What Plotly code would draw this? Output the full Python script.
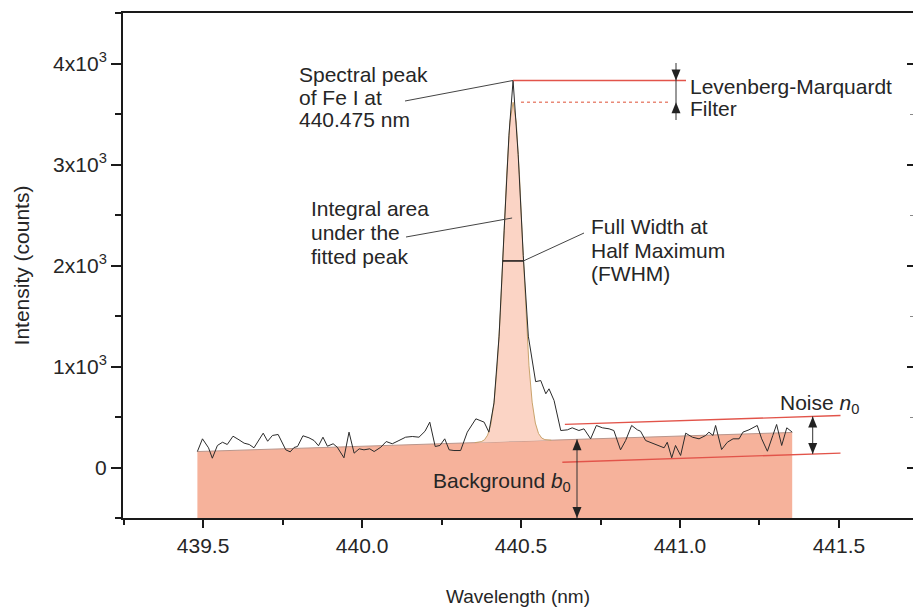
import numpy as np
import plotly.graph_objects as go

# ---- Fe I emission spectrum near 440.5 nm (wavelength in nm, intensity in counts)
WAVELENGTH_NM = [
    439.482, 439.498, 439.517, 439.529, 439.545, 439.561, 439.576, 439.594, 439.613, 439.629,
    439.645, 439.660, 439.689, 439.703, 439.718, 439.736, 439.760, 439.774, 439.786, 439.797,
    439.814, 439.833, 439.849, 439.863, 439.877, 439.891, 439.909, 439.922, 439.943, 439.959,
    439.975, 439.991, 440.006, 440.024, 440.038, 440.059, 440.076, 440.095, 440.116, 440.137,
    440.158, 440.179, 440.198, 440.213, 440.230, 440.245, 440.260, 440.274, 440.289, 440.310,
    440.331, 440.358, 440.384, 440.399, 440.415, 440.431, 440.447, 440.462, 440.475, 440.491,
    440.507, 440.523, 440.546, 440.562, 440.578, 440.588, 440.604, 440.614, 440.625, 440.646,
    440.661, 440.682, 440.698, 440.719, 440.737, 440.756, 440.777, 440.792, 440.813, 440.829,
    440.848, 440.866, 440.876, 440.892, 440.913, 440.929, 440.950, 440.960, 440.974, 440.986,
    441.002, 441.018, 441.039, 441.060, 441.081, 441.091, 441.104, 441.112, 441.131, 441.149,
    441.167, 441.186, 441.198, 441.217, 441.243, 441.257, 441.275, 441.292, 441.304, 441.320,
    441.336, 441.353,
]
INTENSITY_COUNTS = [
    158, 284, 195, 92, 218, 250, 228, 310, 274, 241,
    228, 195, 340, 260, 317, 327, 175, 155, 198, 208,
    314, 294, 267, 215, 300, 211, 235, 201, 96, 350,
    142, 185, 175, 185, 158, 201, 257, 235, 267, 300,
    307, 300, 359, 449, 208, 218, 284, 175, 168, 168,
    350, 482, 449, 350, 640, 1300, 2350, 3290, 3832, 3100,
    2100, 1300, 850, 861, 730, 779, 663, 532, 366, 373,
    393, 366, 383, 284, 416, 393, 383, 366, 175, 267,
    416, 373, 359, 267, 241, 218, 195, 250, 96, 218,
    119, 340, 300, 284, 317, 350, 317, 416, 178, 250,
    284, 284, 350, 373, 416, 284, 161, 317, 426, 218,
    393, 350,
]

# ---- fitted peak profile (on top of the background)
FIT_WAVELENGTH_NM = [
    440.355, 440.365, 440.375, 440.385, 440.395, 440.405, 440.415, 440.425, 440.435, 440.445,
    440.455, 440.465, 440.475, 440.485, 440.495, 440.505, 440.515, 440.525, 440.535, 440.545,
    440.555, 440.565, 440.575, 440.585, 440.595,
]
FIT_COUNTS = [
    246, 249, 256, 274, 321, 426, 635, 997, 1534, 2207,
    2895, 3419, 3616, 3421, 2899, 2213, 1542, 1007, 647, 440,
    337, 292, 276, 271, 270,
]

# ---- linear background b0 and noise band n0
BACKGROUND_WL = [439.482, 441.353]
BACKGROUND_COUNTS = [158, 347]
NOISE_UPPER_WL = [440.638, 441.505]
NOISE_UPPER_COUNTS = [426, 515]
NOISE_LOWER_WL = [440.630, 441.505]
NOISE_LOWER_COUNTS = [52, 142]

PEAK_LINE_NM = 440.475

X_TICKS = [439.5, 440.0, 440.5, 441.0, 441.5]
X_TICK_TEXT = ["439.5", "440.0", "440.5", "441.0", "441.5"]
Y_TICKS = [0, 1000, 2000, 3000, 4000]
Y_TICK_TEXT = ["0", "1x10<sup>3</sup>", "2x10<sup>3</sup>", "3x10<sup>3</sup>", "4x10<sup>3</sup>"]

# ---- page geometry
W, H = 913, 607
M_L, M_R, M_T, M_B = 123, 0, 13, 89
X_RANGE = [439.248, 441.733]
Y_RANGE = [-500, 4500]
PLOT_W = W - M_L - M_R
PLOT_H = H - M_T - M_B
PX_PER_NM = PLOT_W / (X_RANGE[1] - X_RANGE[0])
PX_PER_COUNT = PLOT_H / (Y_RANGE[1] - Y_RANGE[0])

FONT = "Liberation Sans, Arial, Helvetica, sans-serif"
TEXT_COLOR = "#262626"
RED = "#e2544a"
BG_FILL = "#f6b29b"
PEAK_FILL = "#fbd4c5"


def px2x(px):
    return X_RANGE[0] + (px - M_L) / PX_PER_NM


def py2y(py):
    return Y_RANGE[0] + (H - M_B - py) / PX_PER_COUNT


def paper_x(px):
    return (px - M_L) / PLOT_W


def paper_y(py):
    return (H - M_B - py) / PLOT_H


def arrow_head(x, y_tip, up):
    hw = 4.5 / PX_PER_NM
    hh = 11 / PX_PER_COUNT
    yb = y_tip - hh if up else y_tip + hh
    return dict(type="path", xref="x", yref="y",
                path=f"M {x - hw},{yb} L {x + hw},{yb} L {x},{y_tip} Z",
                fillcolor="#222222", line=dict(width=0))


def seg(x0, y0, x1, y1, color="#333333", width=1, dash="solid"):
    return dict(type="line", xref="x", yref="y", x0=x0, y0=y0, x1=x1, y1=y1,
                line=dict(color=color, width=width, dash=dash))


def baseline_at(x):
    return float(np.interp(x, BACKGROUND_WL, BACKGROUND_COUNTS))


# key levels taken from the series
peak_top = max(INTENSITY_COUNTS)
peak_x = WAVELENGTH_NM[INTENSITY_COUNTS.index(peak_top)]
fit_max = max(FIT_COUNTS)
half_level = (peak_top + baseline_at(PEAK_LINE_NM)) / 2
i_top = FIT_COUNTS.index(fit_max)
fwhm_left = float(np.interp(half_level, FIT_COUNTS[:i_top + 1], FIT_WAVELENGTH_NM[:i_top + 1]))
fwhm_right = float(np.interp(half_level, FIT_COUNTS[i_top:][::-1], FIT_WAVELENGTH_NM[i_top:][::-1]))

fig = go.Figure()

# background area b0 down to the bottom of the axis
bg_x = BACKGROUND_WL + BACKGROUND_WL[::-1]
bg_y = BACKGROUND_COUNTS + [Y_RANGE[0], Y_RANGE[0]]
fig.add_trace(go.Scatter(x=bg_x, y=bg_y, fill="toself", fillcolor=BG_FILL,
                         mode="lines", line=dict(width=0), hoverinfo="skip", showlegend=False))
fig.add_trace(go.Scatter(x=BACKGROUND_WL, y=BACKGROUND_COUNTS, mode="lines",
                         line=dict(color="#b9968c", width=1), hoverinfo="skip", showlegend=False))

# integral area under the fitted peak
fig.add_trace(go.Scatter(x=FIT_WAVELENGTH_NM, y=FIT_COUNTS, fill="toself", fillcolor=PEAK_FILL,
                         mode="lines", line=dict(color="#c9a36b", width=1),
                         hoverinfo="skip", showlegend=False))

# noise band limits
fig.add_trace(go.Scatter(x=NOISE_UPPER_WL, y=NOISE_UPPER_COUNTS, mode="lines",
                         line=dict(color=RED, width=1.3), hoverinfo="skip", showlegend=False))
fig.add_trace(go.Scatter(x=NOISE_LOWER_WL, y=NOISE_LOWER_COUNTS, mode="lines",
                         line=dict(color=RED, width=1.3), hoverinfo="skip", showlegend=False))

# measured spectrum
fig.add_trace(go.Scatter(x=WAVELENGTH_NM, y=INTENSITY_COUNTS, mode="lines",
                         line=dict(color="#2b2b2b", width=1), name="Spectrum", showlegend=False))

# carrier for the right-hand tick axis
fig.add_trace(go.Scatter(x=[X_RANGE[0]], y=[0], yaxis="y2", mode="markers",
                         marker=dict(opacity=0), hoverinfo="skip", showlegend=False))

shapes = []
# peak maximum and fitted maximum
shapes.append(seg(peak_x, peak_top, px2x(686), peak_top, color=RED, width=1.5))
shapes.append(seg(px2x(521), fit_max, px2x(670), fit_max, color="#e98a78", width=1.5, dash="dot"))
lm_x = px2x(676)
shapes.append(seg(lm_x, py2y(63), lm_x, py2y(120)))
shapes.append(arrow_head(lm_x, peak_top, up=False))
shapes.append(arrow_head(lm_x, fit_max, up=True))

# FWHM bar
shapes.append(seg(fwhm_left, half_level, fwhm_right, half_level, color="#111111", width=1.5))

# leader lines
shapes.append(seg(px2x(405), py2y(101), peak_x, peak_top, color="#444444", width=1))
shapes.append(seg(px2x(406), py2y(237), PEAK_LINE_NM - 0.003, py2y(218), color="#444444", width=1))
shapes.append(seg(px2x(584), py2y(233), fwhm_right, half_level, color="#444444", width=1))

# noise double arrow
nz_x = px2x(812.7)
nz_top = float(np.interp(nz_x, NOISE_UPPER_WL, NOISE_UPPER_COUNTS))
nz_bot = float(np.interp(nz_x, NOISE_LOWER_WL, NOISE_LOWER_COUNTS))
shapes.append(seg(nz_x, nz_top, nz_x, nz_bot))
shapes.append(arrow_head(nz_x, nz_top, up=True))
shapes.append(arrow_head(nz_x, nz_bot, up=False))

# background double arrow
bg_ax = px2x(577)
bg_top = baseline_at(bg_ax)
shapes.append(seg(bg_ax, bg_top, bg_ax, Y_RANGE[0]))
shapes.append(arrow_head(bg_ax, bg_top, up=True))
shapes.append(arrow_head(bg_ax, Y_RANGE[0], up=False))

labels = [
    ("Spectral peak", 297, 74), ("of Fe I at", 297, 97), ("440.475 nm", 297, 120),
    ("Integral area", 309, 208), ("under the", 309, 232), ("fitted peak", 309, 256),
    ("Full Width at", 589, 226), ("Half Maximum", 589, 250), ("(FWHM)", 589, 273),
    ("Levenberg-Marquardt", 688, 86), ("Filter", 688, 109),
    ("Noise <i>n</i><sub>0</sub>", 778, 404),
    ("Background <i>b</i><sub>0</sub>", 431, 482),
]
annotations = [
    dict(text=t, x=paper_x(px), y=paper_y(py), xref="paper", yref="paper",
         xanchor="left", yanchor="middle", showarrow=False,
         font=dict(family=FONT, size=21, color=TEXT_COLOR))
    for t, px, py in labels
]

axis_line = dict(showline=True, linecolor="#1a1a1a", linewidth=2, showgrid=False, zeroline=False)

fig.update_layout(
    width=W, height=H, autosize=False,
    margin=dict(l=M_L, r=M_R, t=M_T, b=M_B, pad=0),
    paper_bgcolor="white", plot_bgcolor="white",
    font=dict(family=FONT, color=TEXT_COLOR),
    shapes=shapes, annotations=annotations,
    xaxis=dict(
        range=X_RANGE, mirror=True, ticks="outside", ticklen=8, tickwidth=1.5, tickcolor="#1a1a1a",
        tickvals=X_TICKS, ticktext=X_TICK_TEXT, tickfont=dict(size=21, family=FONT, color=TEXT_COLOR),
        minor=dict(ticks="outside", ticklen=5, tickwidth=1.5, tickcolor="#1a1a1a", dtick=0.25, tick0=439.25),
        title=dict(text="Wavelength (nm)", font=dict(size=19, family=FONT, color=TEXT_COLOR), standoff=34),
        **axis_line,
    ),
    yaxis=dict(
        range=Y_RANGE, ticks="outside", ticklen=10, tickwidth=1.5, tickcolor="#1a1a1a",
        tickvals=Y_TICKS, ticktext=Y_TICK_TEXT, tickfont=dict(size=21, family=FONT, color=TEXT_COLOR),
        minor=dict(ticks="outside", ticklen=6, tickwidth=1.5, tickcolor="#1a1a1a", dtick=500, tick0=0),
        title=dict(text="Intensity (counts)", font=dict(size=21, family=FONT, color=TEXT_COLOR), standoff=18),
        **axis_line,
    ),
    yaxis2=dict(
        range=Y_RANGE, overlaying="y", side="right", anchor="x",
        showline=False, showgrid=False, zeroline=False, showticklabels=False,
        ticks="inside", ticklen=6, tickwidth=1.5, tickcolor="#1a1a1a", tickvals=Y_TICKS,
        minor=dict(ticks="inside", ticklen=3, tickwidth=1, tickcolor="#888888", dtick=500, tick0=0),
    ),
    showlegend=False,
)

fig.write_html("out.html")
